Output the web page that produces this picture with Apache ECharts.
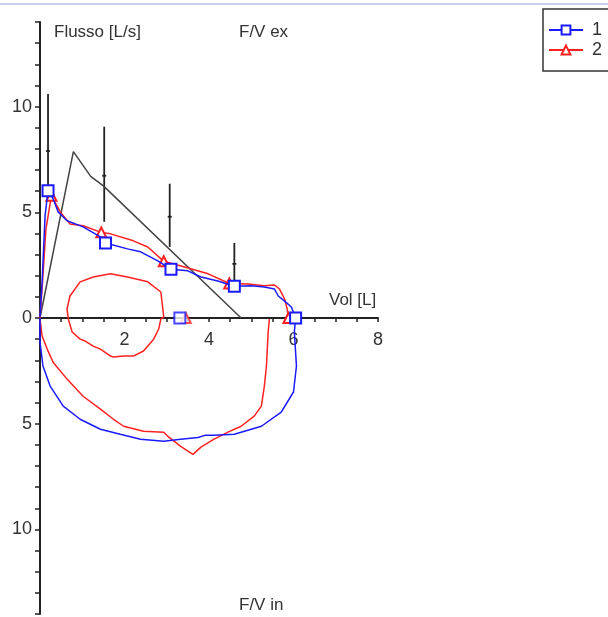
<!DOCTYPE html>
<html>
<head>
<meta charset="utf-8">
<script src="https://cdn.jsdelivr.net/npm/echarts@6/dist/echarts.min.js"></script>
<style>
  html, body { margin: 0; padding: 0; background: #fff; }
  #chart { width: 608px; height: 617px; }
</style>
</head>
<body>
<div id="chart"></div>
<script>
// volume [L], flow [L/s]; expiration positive, inspiration negative
const blueExp = [[0,0.05],[0.05,1.7],[0.12,4.83],[0.19,6.02],[0.31,5.64],[0.43,5.02],[0.64,4.6],[1.02,4.31],[1.43,3.84],[1.55,3.55],[2.07,3.27],[2.38,3.13],[2.79,2.7],[3.1,2.3],[3.5,2.23],[3.81,1.94],[4.21,1.75],[4.6,1.5],[5.0,1.52],[5.31,1.47],[5.55,1.37],[5.64,1.04],[5.79,0.8],[5.95,0.52],[6.05,0]];
const blueExpMarks = [3, 9, 13, 17, 24];
const blueInsp = [[6.05,0],[6.02,-0.66],[6.07,-2.27],[6.0,-3.5],[5.71,-4.45],[5.24,-5.12],[4.6,-5.5],[4.12,-5.55],[3.9,-5.55],[3.74,-5.65],[3.33,-5.73],[2.93,-5.83],[2.38,-5.73],[1.9,-5.5],[1.43,-5.26],[0.95,-4.79],[0.55,-4.17],[0.24,-3.22],[0.07,-2.27],[0,-1.14],[0,0]];
const redExp = [[0,0],[0.05,1.4],[0.14,4.2],[0.27,5.78],[0.48,5.02],[0.71,4.45],[1.02,4.36],[1.45,4.05],[1.67,3.98],[2.21,3.65],[2.55,3.36],[2.93,2.68],[3.4,2.42],[3.98,2.09],[4.48,1.63],[4.93,1.61],[5.31,1.52],[5.55,1.56],[5.67,1.37],[5.79,0.9],[5.85,0.43],[5.88,0]];
const redExpMarks = [3, 7, 11, 14, 21];
const redInsp = [[5.43,-0.05],[5.4,-0.66],[5.36,-2.27],[5.31,-3.22],[5.24,-4.17],[5.07,-4.64],[4.76,-5.12],[4.45,-5.4],[4.12,-5.73],[3.81,-6.11],[3.62,-6.45],[3.33,-6.07],[3.02,-5.59],[2.93,-5.4],[2.45,-5.36],[1.98,-5.12],[1.74,-4.79],[1.43,-4.31],[1.02,-3.7],[0.64,-2.89],[0.31,-2.09],[0.17,-1.47],[0.05,-0.85],[0,-0.05]];
const redLoop = [[2.93,0.05],[2.86,1.23],[2.55,1.71],[2.07,1.94],[1.67,2.09],[1.26,1.94],[0.95,1.71],[0.71,1.04],[0.64,0.43],[0.67,-0.05],[0.76,-0.66],[0.95,-1.0],[1.07,-1.09],[1.26,-1.33],[1.43,-1.47],[1.67,-1.8],[1.74,-1.85],[1.98,-1.8],[2.21,-1.8],[2.45,-1.56],[2.69,-1.0],[2.81,-0.52],[2.86,-0.05],[2.93,0.05]];
const blueZero = [[3.31,0]];
const redZero = [[3.45,0]];
const predicted = [[0,0],[0.79,7.87],[1.2,6.7],[1.5,6.25],[4.76,0]];
// predicted ranges: [volume, low, mid, high]
const ranges = [[0.19,6.1,7.9,10.6],[1.52,4.55,6.73,9.05],[3.07,3.36,4.79,6.35],[4.6,1.61,2.56,3.55]];

function withMarks(pts, marks) {
  return pts.map((p, i) => marks.includes(i) ? p : { value: p, symbol: 'none' });
}

const chart = echarts.init(document.getElementById('chart'));
const font = 'Liberation Sans, Arial, sans-serif';

chart.setOption({
  animation: false,
  backgroundColor: '#fff',
  grid: { left: 40, right: 230, top: 22, bottom: 3, containLabel: false, outerBoundsMode: 'none' },
  legend: {
    data: ['1', '2'],
    orient: 'vertical',
    left: 543, top: 9,
    padding: [12, 40, 12, 5],
    itemGap: 2,
    itemWidth: 34, itemHeight: 11,
    borderColor: '#333', borderWidth: 1.5,
    textStyle: { fontFamily: font, fontSize: 18, color: '#333', padding: [0, 0, 0, 4] }
  },
  xAxis: {
    type: 'value', min: 0, max: 8, interval: 0.5,
    position: 'bottom', offset: -296,
    axisLine: { onZero: false, lineStyle: { color: '#222', width: 2 } },
    axisTick: { length: 4, lineStyle: { color: '#222', width: 1.5 } },
    axisLabel: {
      margin: 13, fontFamily: font, fontSize: 18, color: '#333',
      formatter: v => (v > 0 && v % 2 === 0) ? String(v) : ''
    },
    splitLine: { show: false }
  },
  yAxis: {
    type: 'value', min: -14, max: 14, interval: 1,
    axisLine: { show: true, onZero: true, lineStyle: { color: '#222', width: 2 } },
    axisTick: { show: true, length: 5, lineStyle: { color: '#222', width: 1.5 } },
    axisLabel: {
      margin: 8, fontFamily: font, fontSize: 18, color: '#333',
      formatter: v => (v % 5 === 0) ? String(Math.abs(v)) : ''
    },
    splitLine: { show: false }
  },
  graphic: [
    { type: 'line', shape: { x1: 0, y1: 4, x2: 608, y2: 4 }, style: { stroke: '#c9d0ec', lineWidth: 2 } },
    { type: 'text', left: 54, top: 24, style: { text: 'Flusso [L/s]', font: '17px ' + font, fill: '#333' } },
    { type: 'text', left: 239, top: 24, style: { text: 'F/V ex', font: '17px ' + font, fill: '#333' } },
    { type: 'text', left: 239, top: 597, style: { text: 'F/V in', font: '17px ' + font, fill: '#333' } },
    { type: 'text', left: 329, top: 292, style: { text: 'Vol [L]', font: '17px ' + font, fill: '#333' } }
  ],
  series: [
    {
      name: 'pred', type: 'line', data: predicted, symbol: 'none',
      lineStyle: { color: '#444', width: 1.5 }, z: 1
    },
    {
      name: 'ranges', type: 'custom', data: ranges, z: 1,
      renderItem: (params, api) => {
        const x = api.value(0);
        const lo = api.coord([x, api.value(1)]);
        const mid = api.coord([x, api.value(2)]);
        const hi = api.coord([x, api.value(3)]);
        const st = { stroke: '#222', lineWidth: 1.8 };
        return {
          type: 'group', children: [
            { type: 'line', shape: { x1: lo[0], y1: lo[1], x2: hi[0], y2: hi[1] }, style: st },
            { type: 'line', shape: { x1: mid[0] - 2, y1: mid[1], x2: mid[0] + 2, y2: mid[1] }, style: st }
          ]
        };
      }
    },
    {
      name: '2', type: 'line', data: withMarks(redExp, redExpMarks),
      symbol: 'emptyTriangle', symbolSize: 10, showAllSymbol: true,
      itemStyle: { color: '#ff2020', borderWidth: 1.5 },
      lineStyle: { color: '#ff2020', width: 1.5 }, z: 3
    },
    {
      name: '1', type: 'line', data: withMarks(blueExp.concat(blueInsp.slice(1)), blueExpMarks),
      symbol: 'emptyRect', symbolSize: 11, showAllSymbol: true,
      itemStyle: { color: '#1a1aff', borderWidth: 1.5 },
      lineStyle: { color: '#1a1aff', width: 1.5 }, z: 4
    },
    {
      name: '2', type: 'line', data: redInsp, symbol: 'none',
      lineStyle: { color: '#ff2020', width: 1.5 }, z: 3
    },
    {
      name: '2', type: 'line', data: redLoop, symbol: 'none',
      lineStyle: { color: '#ff2020', width: 1.5 }, z: 3
    },
    {
      name: '2', type: 'scatter', data: redZero, symbol: 'emptyTriangle', symbolSize: 10,
      itemStyle: { color: '#ff2020', borderWidth: 1.5 }, z: 5
    },
    {
      name: '1', type: 'scatter', data: blueZero, symbol: 'emptyRect', symbolSize: 11,
      itemStyle: { color: '#1a1aff', borderWidth: 1.5 }, z: 5
    }
  ]
});
</script>
</body>
</html>
